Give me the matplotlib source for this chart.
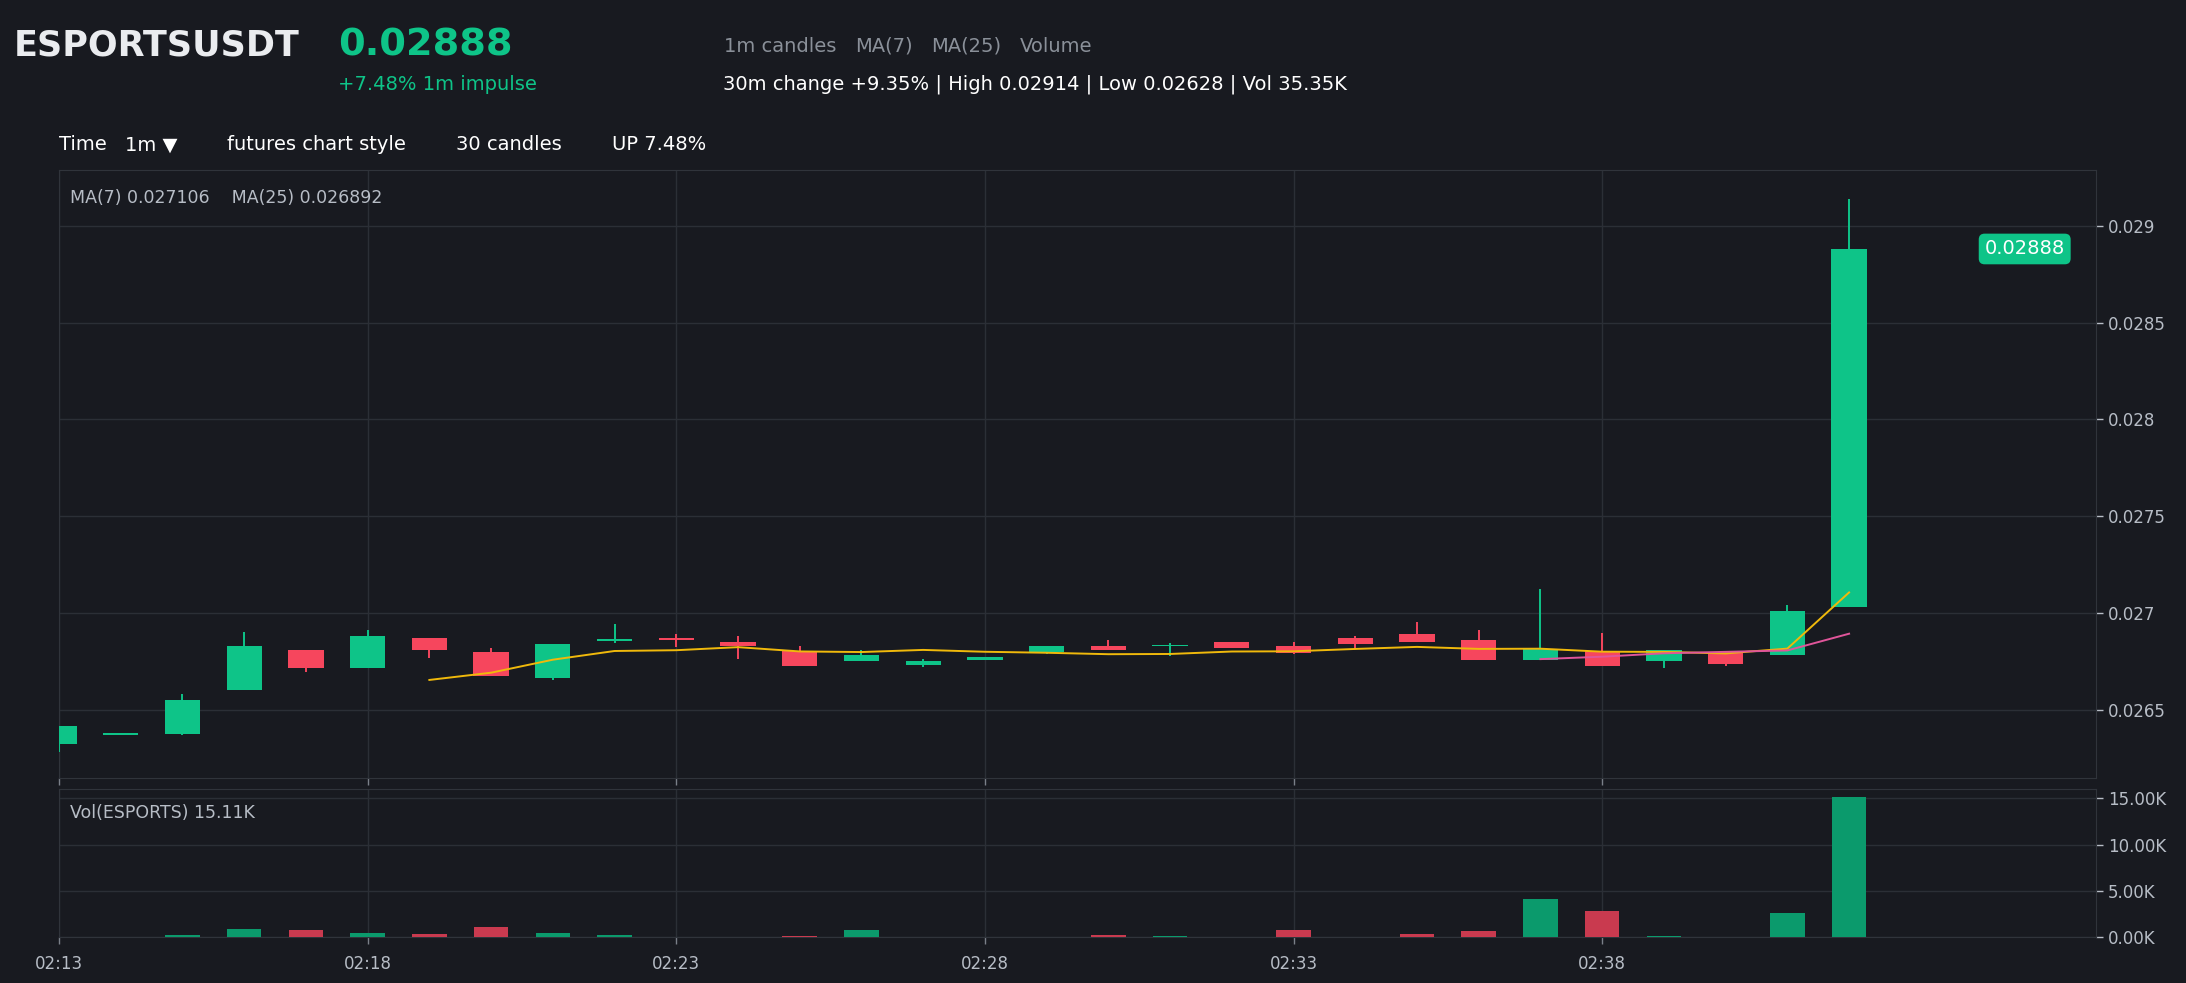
#%%
import numpy as np
import pandas as pd
import matplotlib
matplotlib.use("Agg")
import matplotlib.pyplot as plt

#%%
# 1m candles 02:13 -> 02:42
times = ['02:13', '02:14', '02:15', '02:16', '02:17', '02:18', '02:19', '02:20', '02:21', '02:22',
         '02:23', '02:24', '02:25', '02:26', '02:27', '02:28', '02:29', '02:30', '02:31', '02:32',
         '02:33', '02:34', '02:35', '02:36', '02:37', '02:38', '02:39', '02:40', '02:41', '02:42']
opens = [0.026324, 0.026371, 0.026376, 0.026600, 0.026810, 0.026717, 0.026872, 0.026800, 0.026666, 0.026857,
         0.026870, 0.026852, 0.026805, 0.026750, 0.026729, 0.026759, 0.026800, 0.026831, 0.026829, 0.026852,
         0.026831, 0.026872, 0.026893, 0.026862, 0.026759, 0.026802, 0.026750, 0.026797, 0.026780, 0.027030]
highs = [0.026414, 0.026371, 0.026583, 0.026903, 0.026810, 0.026914, 0.026872, 0.026821, 0.026841, 0.026945,
         0.026893, 0.026883, 0.026831, 0.026809, 0.026764, 0.026774, 0.026831, 0.026862, 0.026843, 0.026852,
         0.026852, 0.026883, 0.026952, 0.026914, 0.027121, 0.026897, 0.026809, 0.026797, 0.027043, 0.029137]
lows = [0.026280, 0.026371, 0.026371, 0.026600, 0.026693, 0.026717, 0.026766, 0.026676, 0.026652, 0.026845,
        0.026822, 0.026764, 0.026728, 0.026750, 0.026722, 0.026759, 0.026786, 0.026807, 0.026776, 0.026817,
        0.026786, 0.026821, 0.026848, 0.026759, 0.026755, 0.026728, 0.026713, 0.026724, 0.026780, 0.027030]
closes = [0.026414, 0.026371, 0.026552, 0.026831, 0.026717, 0.026883, 0.026807, 0.026676, 0.026841, 0.026867,
          0.026859, 0.026828, 0.026728, 0.026785, 0.026753, 0.026774, 0.026831, 0.026807, 0.026836, 0.026817,
          0.026793, 0.026838, 0.026848, 0.026759, 0.026814, 0.026728, 0.026809, 0.026738, 0.027012, 0.028880]
volumes = [30, 0, 180, 910, 800, 475, 365, 1130, 475, 255,
           20, 30, 145, 800, 0, 0, 30, 220, 110, 0,
           760, 30, 330, 650, 4060, 2830, 145, 40, 2610, 15110]

price_ticks = [0.0265, 0.027, 0.0275, 0.028, 0.0285, 0.029]
vol_ticks = [0, 5000, 10000, 15000]
time_ticks = ['02:13', '02:18', '02:23', '02:28', '02:33', '02:38']

#%%
bg = '#181a20'
grid_c = '#2b2f36'
txt_c = '#b7bdc6'
up_c, dn_c = '#0ec488', '#f6465d'
up_v, dn_v = '#0b9a6c', '#c93a4f'

df = pd.DataFrame({'open': opens, 'high': highs, 'low': lows, 'close': closes, 'vol': volumes})
df['ma7'] = df['close'].rolling(7).mean()
df['ma25'] = df['close'].rolling(25).mean()
x = np.arange(len(times))
up = df['close'] >= df['open']

W, H = 2186, 983
fig = plt.figure(figsize=(W / 100, H / 100), dpi=100, facecolor=bg)
ax = fig.add_axes([59 / W, 1 - 778 / H, (2096 - 59) / W, (778 - 170) / H], facecolor=bg)
axv = fig.add_axes([59 / W, 1 - 937 / H, (2096 - 59) / W, (937 - 789) / H], facecolor=bg)

# candles
body_lo = np.minimum(df['open'], df['close'])
body_h = np.maximum(np.abs(df['close'] - df['open']), 0.000006)
cols = np.where(up, up_c, dn_c)
ax.vlines(x, df['low'], df['high'], colors=cols, lw=1.4, zorder=3)
ax.bar(x, body_h, bottom=body_lo, width=0.57, color=cols, zorder=4)
ax.plot(x, df['ma7'], color='#f0b90b', lw=1.4, zorder=5)
ax.plot(x, df['ma25'], color='#e0559a', lw=1.4, zorder=5)

# volume
axv.bar(x, df['vol'], width=0.56, color=np.where(up, up_v, dn_v), zorder=3)

tick_pos = [times.index(t) for t in time_ticks]
for a in (ax, axv):
    a.set_xlim(0, 33)
    a.set_xticks(tick_pos)
    a.grid(True, color=grid_c, lw=1.0)
    a.set_axisbelow(True)
    a.yaxis.tick_right()
    a.tick_params(colors=txt_c, labelsize=12, length=5, width=1, labelcolor=txt_c)
    a.tick_params(axis='x', colors='#7a8089')
    for s in a.spines.values():
        s.set_color('#30343b')

ax.set_ylim(0.026147, 0.029288)
ax.set_yticks(price_ticks)
ax.set_yticklabels(['%g' % v for v in price_ticks])
ax.set_xticklabels([])

axv.set_ylim(0, 16000)
axv.set_yticks(vol_ticks)
axv.set_yticklabels(['%.2fK' % (v / 1000) for v in vol_ticks])
axv.set_xticklabels(time_ticks)
axv.tick_params(axis='x', labelcolor=txt_c, pad=8)

# last price tag
ax.text(0.965, df['close'].iloc[-1], '%.5f' % df['close'].iloc[-1], transform=ax.get_yaxis_transform(),
        ha='center', va='center', color='white', fontsize=14, zorder=6,
        bbox=dict(boxstyle='round,pad=0.3,rounding_size=0.3', fc=up_c, ec='none'))

ax.text(0.0054, 1 - 28 / 608, 'MA(7) %.6f    MA(25) %.6f' % (df['ma7'].iloc[-1], df['ma25'].iloc[-1]),
        transform=ax.transAxes, ha='left', va='center', color=txt_c, fontsize=12.5)
axv.text(0.0055, 1 - 24 / 148, 'Vol(ESPORTS) %.2fK' % (df['vol'].iloc[-1] / 1000),
         transform=axv.transAxes, ha='left', va='center', color=txt_c, fontsize=12.5)

#%%
# header
def ftext(px, py, s, **kw):
    fig.text(px / W, 1 - py / H, s, va='center', ha='left', **kw)

ftext(14, 46, 'ESPORTSUSDT', color='#eaecef', fontsize=25.2, fontweight='bold')
ftext(338, 46, '0.02888', color=up_c, fontsize=27.5, fontweight='bold')
ftext(338, 84, '+7.48% 1m impulse', color=up_c, fontsize=14)
for px, s in [(724, '1m candles'), (855, 'MA(7)'), (931, 'MA(25)'), (1020, 'Volume')]:
    ftext(px, 46, s, color='#8a9099', fontsize=14)
ftext(723, 84, '30m change +9.35% | High 0.02914 | Low 0.02628 | Vol 35.35K', color='white', fontsize=14)
for px, s in [(59, 'Time'), (125, '1m ▼'), (227, 'futures chart style'), (456, '30 candles'), (612, 'UP 7.48%')]:
    ftext(px, 145, s, color='white', fontsize=14)

fig.savefig('out.png', dpi=100, facecolor=bg)
